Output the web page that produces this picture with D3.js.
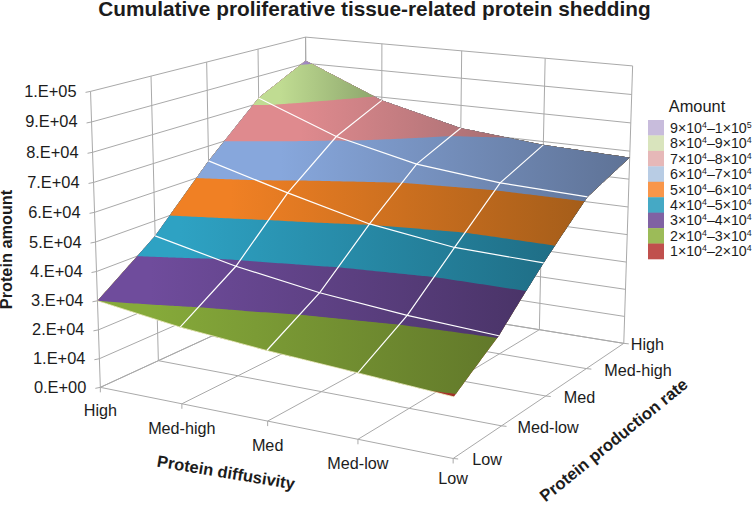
<!DOCTYPE html>
<html><head><meta charset="utf-8">
<script src="https://cdn.jsdelivr.net/npm/d3@7"></script>
<style>
html,body{margin:0;padding:0;background:#fff}
svg{display:block}
text{font-family:"Liberation Sans",Arial,sans-serif;fill:#1c1c1c}
</style></head><body>
<svg id="chart" width="752" height="506"></svg>
<script>
// ---- data (amounts; rows = diffusivity, columns = production rate)
const diffusivity = ["High","Med-high","Med","Med-low","Low"];
const production  = ["Low","Med-low","Med","Med-high","High"];
const amountHigh    = [30000,44700,64700,82000,91000];
const amountMedHigh = [26000,38500,57000,71000,78800];
const amountMed     = [23400,34200,50200,64600,71600];
const amountMedLow  = [21500,31700,46600,61800,68800];
const amountLow     = [19500,30400,46200,61000,67700];
const zTicks = [0,1e4,2e4,3e4,4e4,5e4,6e4,7e4,8e4,9e4,1e5];
const zLabels = ["0.E+00","1.E+04","2.E+04","3.E+04","4.E+04","5.E+04","6.E+04","7.E+04","8.E+04","9.E+04","1.E+05"];
const bandFloors = [1e4,2e4,3e4,4e4,5e4,6e4,7e4,8e4,9e4];
const legendRows = [["9","4","1","5"],["8","4","9","4"],["7","4","8","4"],["6","4","7","4"],["5","4","6","4"],["4","4","5","4"],["3","4","4","4"],["2","4","3","4"],["1","4","2","4"]];

// ---- styles
const legendColors = ["#c8bcdc","#d9e4bd","#e6b8b8","#b8cce4","#f9964a","#45a9c5","#8062a3","#9cbb58","#c0504d"];
const surfaceLeft  = {1e4:"#b83a32",2e4:"#86aa3a",3e4:"#6f4c9c",4e4:"#2ea2c3",5e4:"#f08024",6e4:"#87a7dc",7e4:"#df8a8e",8e4:"#c0dc92",9e4:"#a58cc8"};
const surfaceRight = {1e4:"#a03028",2e4:"#62792a",3e4:"#4a3468",4e4:"#1f6e86",5e4:"#a65e1a",6e4:"#5f7397",7e4:"#a66e72",8e4:"#8fa86e",9e4:"#9a84bc"};
const bandX1 = {1e4:430,2e4:150,3e4:150,4e4:180,5e4:230,6e4:280,7e4:300,8e4:280,9e4:300};
const bandX2 = {1e4:455,2e4:495,3e4:525,4e4:555,5e4:580,6e4:625,7e4:510,8e4:372,9e4:312};
const gridColor = "#a9a9a9";

// ---- projection: perspective camera fitted to the box's visible corners
const anchors = [
 [0,0,0,100.7,387.3],[.25,0,0,182,404],[.5,0,0,267.7,422],[.75,0,0,357.7,440],[1,0,0,451.7,458],
 [1,.25,0,503.3,425],[1,.5,0,545.7,396],[1,.75,0,587,368],[1,1,0,623,344],[.75,1,0,539.3,330],
 [0,.25,0,158,360],[0,0,1,90.7,91],[0,.25,1,150.7,76.7],[0,.5,1,206.7,62.7],[0,.75,1,258,49],[0,1,1,305.7,36],
 [.25,1,1,382,44.7],[.5,1,1,461.7,51],[.75,1,1,545,58],[1,1,1,632.7,65.7],[0,0,.5,95.5,241.7]
];
function fitCamera(pts){
  const rows=[],rhs=[];
  pts.forEach(([u,v,w,x,y])=>{
    const X=x/100,Y=y/100;
    rows.push([u,v,w,1,0,0,0,0,-X*u,-X*v,-X*w]);rhs.push(X);
    rows.push([0,0,0,0,u,v,w,1,-Y*u,-Y*v,-Y*w]);rhs.push(Y);
  });
  const n=11,A=d3.range(n).map(i=>d3.range(n+1).map(j=>{
    let s=0;rows.forEach((r,k)=>{s+=r[i]*(j<n?r[j]:rhs[k]);});return s;}));
  for(let c=0;c<n;c++){
    let p=c;for(let r=c+1;r<n;r++)if(Math.abs(A[r][c])>Math.abs(A[p][c]))p=r;
    [A[c],A[p]]=[A[p],A[c]];
    for(let r=0;r<n;r++){if(r===c)continue;const f=A[r][c]/A[c][c];
      for(let j=c;j<=n;j++)A[r][j]-=f*A[c][j];}
  }
  return A.map((r,i)=>r[n]/r[i]);
}
const h=fitCamera(anchors);
function project(u,v,w){
  const d=h[8]*u+h[9]*v+h[10]*w+1;
  return [100*(h[0]*u+h[1]*v+h[2]*w+h[3])/d,100*(h[4]*u+h[5]*v+h[6]*w+h[7])/d];
}
// the surface sits very slightly off the axis ticks toward the front-right corner
const surfaceProject=(u,v,w)=>project(u,v-.12*u*u*v*(1-v),w);
const uScale=d3.scalePoint().domain(diffusivity).range([0,1]);
const vScale=d3.scalePoint().domain(production).range([0,1]);
const wScale=d3.scaleLinear().domain([0,1e5]).range([0,1]);
const amounts=[amountHigh,amountMedHigh,amountMed,amountMedLow,amountLow];
const P=(di,pi,val)=>surfaceProject(uScale(diffusivity[di]),vScale(production[pi]),wScale(val));

const svg=d3.select("#chart");
const line=d3.line();

// ---- box: walls + floor
const gGrid=svg.append("g").attr("fill","none").attr("stroke",gridColor).attr("stroke-width",1);
function seg(a,b){gGrid.append("path").attr("d",line([a,b]));}
zTicks.forEach(t=>{const w=wScale(t);
  seg(project(0,0,w),project(0,1,w));
  seg(project(0,1,w),project(1,1,w));
  const a=project(0,0,w);seg([a[0]-5,a[1]+1],a);
});
production.forEach(p=>{const v=vScale(p);
  seg(project(0,v,0),project(0,v,1));
  seg(project(0,v,0),project(1,v,0));
  const a=project(1,v,0);seg(a,[a[0]+5,a[1]+.5]);
});
diffusivity.forEach(d=>{const u=uScale(d);
  seg(project(u,0,0),project(u,1,0));
  seg(project(u,1,0),project(u,1,1));
  const a=project(u,0,0);seg(a,[a[0],a[1]+5]);
});

// ---- surface bands
const defs=svg.append("defs");
bandFloors.forEach(b=>{
  const g=defs.append("linearGradient").attr("id","band"+b).attr("gradientUnits","userSpaceOnUse")
    .attr("x1",bandX1[b]).attr("x2",bandX2[b]).attr("y1",0).attr("y2",0);
  g.append("stop").attr("offset",0).attr("stop-color",surfaceLeft[b]);
  g.append("stop").attr("offset",1).attr("stop-color",surfaceRight[b]);
});
const N=121;
function bilinear(tu,tv){
  const fu=tu*4,fv=tv*4,i=Math.min(3,Math.floor(fu)),j=Math.min(3,Math.floor(fv)),a=fu-i,b=fv-j;
  return (1-a)*(1-b)*amounts[i][j]+a*(1-b)*amounts[i+1][j]+(1-a)*b*amounts[i][j+1]+a*b*amounts[i+1][j+1];
}
const field=new Float64Array(N*N);
for(let j=0;j<N;j++)for(let i=0;i<N;i++)field[i+j*N]=bilinear(i/(N-1),j/(N-1));
const gridToT=c=>Math.max(0,Math.min(1,(c-.5)/(N-1)));
const surfacePath=d3.geoPath(d3.geoTransform({point(x,y){
  const tu=gridToT(x),tv=gridToT(y),p=surfaceProject(tu,tv,wScale(bilinear(tu,tv)));
  this.stream.point(p[0],p[1]);
}}));
const contours=d3.contours().size([N,N]).thresholds(bandFloors.map((b,i)=>i===0?0:b));
const gSurf=svg.append("g");
contours(Array.from(field)).forEach((c,i)=>{
  gSurf.append("path").attr("d",surfacePath(c)).attr("fill","url(#band"+bandFloors[i]+")");
});

// ---- mesh lines
const gMesh=svg.append("g").attr("fill","none").attr("stroke","#fff").attr("stroke-width",1.2);
[1,2,3].forEach(pi=>gMesh.append("path").attr("d",line(diffusivity.map((_,di)=>P(di,pi,amounts[di][pi])))));
[1,2,3].forEach(di=>gMesh.append("path").attr("d",line(production.map((_,pi)=>P(di,pi,amounts[di][pi])))));
gMesh.append("path").attr("stroke","#eef5c8").attr("stroke-width",.8).attr("d",line(diffusivity.map((_,di)=>P(di,0,amounts[di][0]))));

// ---- text
svg.append("text").attr("x",374.5).attr("y",15.6).attr("text-anchor","middle")
  .attr("font-size",20.8).attr("font-weight","bold").text("Cumulative proliferative tissue-related protein shedding");
const gZ=svg.append("g").attr("font-size",16.4).attr("text-anchor","end");
zTicks.forEach((t,i)=>{const a=project(0,0,wScale(t));
  gZ.append("text").attr("x",a[0]-14).attr("y",a[1]+5.5).text(zLabels[i]);});
const gD=svg.append("g").attr("font-size",16.2).attr("text-anchor","middle");
diffusivity.forEach(d=>{const a=project(uScale(d),0,0);
  gD.append("text").attr("x",a[0]).attr("y",a[1]+(d==="High"?29:d==="Low"?26:30)).text(d);});
const prodDx=[19,16,18,18,7];
const gP=svg.append("g").attr("font-size",16.2);
production.forEach((p,i)=>{const a=project(1,vScale(p),0);
  gP.append("text").attr("x",a[0]+prodDx[i]).attr("y",a[1]+7).text(p);});
const axisTitle=(x,y,rot,size,s)=>svg.append("text").attr("transform",`translate(${x},${y}) rotate(${rot})`)
  .attr("text-anchor","middle").attr("font-size",size).attr("font-weight","bold").text(s);
axisTitle(12,249.5,-90,16.3,"Protein amount");
axisTitle(225,478,9.5,16.5,"Protein diffusivity");
axisTitle(617.3,444.5,-39,16.7,"Protein production rate");

// ---- legend
const legend=svg.append("g");
legend.append("text").attr("x",697).attr("y",112).attr("text-anchor","middle").attr("font-size",16.4).text("Amount");
const rowY=d3.scaleBand().domain(d3.range(legendRows.length)).range([120,259]);
legendRows.forEach((r,i)=>{
  legend.append("rect").attr("x",648).attr("y",rowY(i)).attr("width",16).attr("height",rowY.bandwidth()+.3).attr("fill",legendColors[i]);
  const t=legend.append("text").attr("x",670).attr("y",rowY(i)+rowY.bandwidth()/2+5).attr("font-size",14.2);
  t.append("tspan").text(r[0]+"×10");
  t.append("tspan").attr("font-size",8.8).attr("dy",-5).text(r[1]);
  t.append("tspan").attr("dy",5).text("–"+r[2]+"×10");
  t.append("tspan").attr("font-size",8.8).attr("dy",-5).text(r[3]);
});
</script>
</body></html>
